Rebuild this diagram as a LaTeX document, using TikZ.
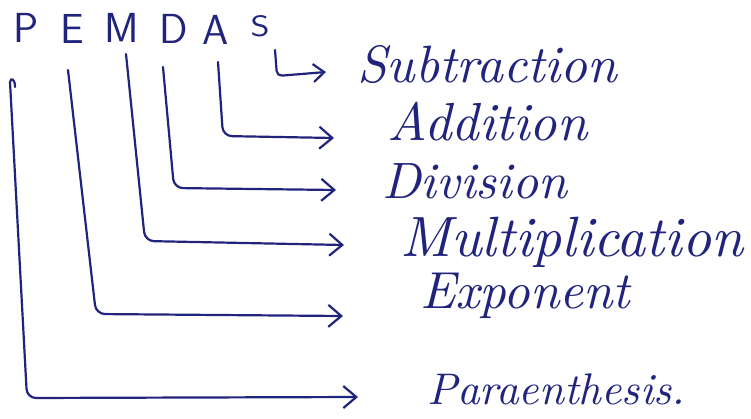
\documentclass[tikz,border=0pt]{standalone}
\usepackage{graphicx}
\usetikzlibrary{arrows.meta}
\definecolor{ink}{RGB}{32,36,125}
\begin{document}
\begin{tikzpicture}[x=1pt,y=-1pt,
  letter/.style={inner sep=0pt,text=ink,font=\fontsize{42pt}{42pt}\selectfont\sffamily},
  lbl/.style={inner sep=0pt,anchor=base west,text=ink},
  conn/.style={draw=ink,line width=2.2pt,rounded corners=9pt,line cap=round,
    -{Straight Barb[length=13pt,width=22pt,line width=2.2pt]}}]
\useasboundingbox[fill=white] (0,0) rectangle (751,418);
% letters
\node[letter] (P) at (26,28) {P};
\node[letter] (E) at (72,29) {E};
\node[letter] (M) at (122,28) {M};
\node[letter] (D) at (174,29) {D};
\node[letter] (A) at (216,30) {A};
\node[letter] (S) at (260,26) {\resizebox{19pt}{21pt}{S}};
% labels
\node[lbl] (lS) at (357,82) {\resizebox{260pt}{!}{\itshape Subtraction}};
\node[lbl] (lA) at (387,140) {\resizebox{200pt}{!}{\itshape Addition}};
\node[lbl] (lD) at (382,198) {\resizebox{185pt}{!}{\itshape Division}};
\node[lbl] (lM) at (400,256) {\resizebox{343pt}{!}{\itshape Multiplication}};
\node[lbl] (lE) at (420,308) {\resizebox{210pt}{!}{\itshape Exponent}};
\node[lbl] (lP) at (427,404) {\resizebox{258pt}{!}{\itshape Paraenthesis.}};
% coordinates
\coordinate (sS) at (275,50); \coordinate (cS) at (277,76); \coordinate (eS) at (326,72);
\coordinate (sA) at (218,62); \coordinate (cA) at (223,136); \coordinate (eA) at (334,138);
\coordinate (sD) at (163,67); \coordinate (cD) at (174,188); \coordinate (eD) at (336,190);
\coordinate (sM) at (126,54); \coordinate (cM) at (145,241); \coordinate (eM) at (344,245);
\coordinate (sE) at (68,70);  \coordinate (cE) at (96,314);  \coordinate (eE) at (343,316);
\coordinate (sP) at (10,82);  \coordinate (cP) at (27,398);  \coordinate (eP) at (358,397);
% connectors
\draw[conn,rounded corners=5pt,-{Straight Barb[length=11pt,width=18pt,line width=2.2pt]}] (sS) -- (cS) -- (eS);
\draw[conn] (sA) -- (cA) -- (eA);
\draw[conn] (sD) -- (cD) -- (eD);
\draw[conn] (sM) -- (cM) -- (eM);
\draw[conn] (sE) -- (cE) -- (eE);
\draw[conn] (sP) -- (cP) -- (eP);
\draw[draw=ink,line width=2.2pt,line cap=round] (sP) .. controls (11,77) and (15,79) .. (15,87);
\end{tikzpicture}
\end{document}
